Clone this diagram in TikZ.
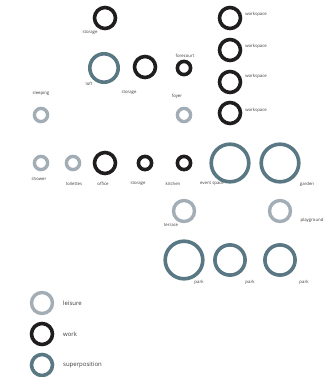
\documentclass[tikz,border=0pt]{standalone}
\usepackage{fontspec}
\setmainfont{Open Sans}
\definecolor{leisurecol}{HTML}{A3ADB5}
\definecolor{workcol}{HTML}{1F1D1D}
\definecolor{supercol}{HTML}{5A7883}
\definecolor{labelcol}{HTML}{3A3A3A}
\tikzset{
  ring/.style={circle, inner sep=0pt, minimum size=#1},
  leisure/.style={draw=leisurecol, line width=3.4pt},
  work/.style={draw=workcol, line width=3.6pt},
  superpos/.style={draw=supercol, line width=3.6pt},
  tag/.style={text=labelcol, inner sep=0pt, font=\fontsize{4.3}{5}\selectfont},
  legendtag/.style={text=labelcol, inner sep=0pt, anchor=west, font=\fontsize{6}{7}\selectfont}
}
\begin{document}
\begin{tikzpicture}[x=1pt, y=-1pt]
  \useasboundingbox (0,0) rectangle (327,377);
  % upper floor
  \node[ring=21, work] (storageA) at (105,18) {};
  \node[tag] at (90,33) {storage};
  \node[ring=28.4, superpos] (loft) at (104,68) {};
  \node[tag] at (89,84) {loft};
  \node[ring=21, work] (storageB) at (145,67) {};
  \node[tag] at (129,93) {storage};
  \node[ring=13.2, work] (forecourt) at (184,68) {};
  \node[tag] at (185,56) {forecourt};
  \foreach \y/\ly [count=\i] in {18/14, 50/46, 82/76, 113/110} {
    \node[ring=21, work] (workspace\i) at (230,\y) {};
    \node[tag] at (256,\ly) {workspace};
  }
  \node[ring=13.2, leisure] (sleeping) at (41,115) {};
  \node[tag] at (41,93) {sleeping};
  \node[ring=13.2, leisure] (foyer) at (184,115) {};
  \node[tag] at (177,96) {foyer};
  % ground floor
  \node[ring=13.2, leisure] (shower) at (41,163) {};
  \node[tag] at (39,179) {shower};
  \node[ring=13.2, leisure] (toilettes) at (73,163) {};
  \node[tag] at (74,184) {toilettes};
  \node[ring=21, work] (office) at (105,163) {};
  \node[tag] at (103,184) {office};
  \node[ring=13.2, work] (storageC) at (145,163) {};
  \node[tag] at (138,184) {storage};
  \node[ring=13.2, work] (kitchen) at (184,163) {};
  \node[tag] at (173,184) {kitchen};
  \node[ring=37.6, superpos] (event) at (230,163) {};
  \node[tag] at (212,184) {event space};
  \node[ring=37.6, superpos] (garden) at (280,163) {};
  \node[tag] at (307,184) {garden};
  \node[ring=21, leisure] (terrace) at (184,211) {};
  \node[tag] at (171,225) {terrace};
  \node[ring=21, leisure] (playground) at (280,211) {};
  \node[tag] at (312,220) {playground};
  \node[ring=37.6, superpos] (parkA) at (184,260) {};
  \node[tag] at (199,282) {park};
  \node[ring=30.2, superpos] (parkB) at (230,260) {};
  \node[tag] at (250,282) {park};
  \node[ring=30.2, superpos] (parkC) at (280,260) {};
  \node[tag] at (304,282) {park};
  % legend
  \node[ring=21, leisure] (keyleisure) at (42,303) {};
  \node[legendtag] at (63,303) {leisure};
  \node[ring=21, work] (keywork) at (42,334) {};
  \node[legendtag] at (63,334) {work};
  \node[ring=21, superpos] (keysuper) at (42,365) {};
  \node[legendtag] at (63,365) {superposition};
\end{tikzpicture}
\end{document}
